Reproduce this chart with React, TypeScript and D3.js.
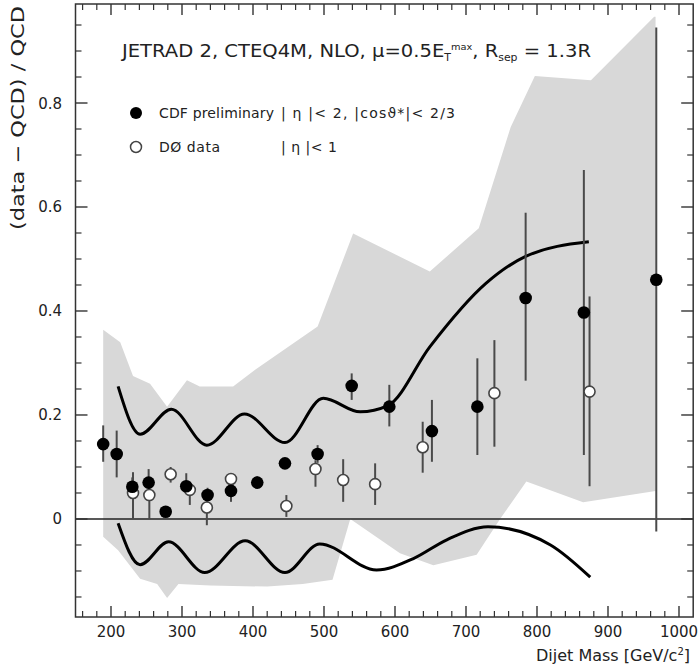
import React from 'react';
import * as d3 from 'd3';

const W = 699;
const H = 668;

// CDF preliminary (filled)
const cdfMass = [189, 208, 230, 253, 277, 306, 336, 369, 406, 445, 491, 539, 592, 652, 716, 784, 866, 968];
const cdfValue = [0.144, 0.125, 0.062, 0.070, 0.014, 0.063, 0.046, 0.054, 0.070, 0.107, 0.125, 0.256, 0.216, 0.169, 0.216, 0.425, 0.397, 0.46];
const cdfLow = [0.11, 0.08, 0.045, 0.045, 0.004, 0.053, 0.033, 0.033, 0.06, 0.098, 0.108, 0.229, 0.178, 0.110, 0.123, 0.266, 0.123, -0.024];
const cdfHigh = [0.18, 0.17, 0.08, 0.096, 0.024, 0.088, 0.06, 0.07, 0.082, 0.117, 0.142, 0.28, 0.258, 0.229, 0.309, 0.589, 0.671, 0.945];

// D0 data (open)
const d0Mass = [231, 254, 284, 311, 335, 369, 447, 488, 527, 572, 639, 740, 874];
const d0Value = [0.050, 0.046, 0.086, 0.056, 0.022, 0.077, 0.025, 0.096, 0.075, 0.067, 0.138, 0.242, 0.245];
const d0Low = [0.0, 0.0, 0.07, 0.027, -0.012, 0.06, 0.004, 0.062, 0.033, 0.027, 0.089, 0.139, 0.063];
const d0High = [0.09, 0.07, 0.10, 0.07, 0.04, 0.085, 0.046, 0.113, 0.115, 0.107, 0.187, 0.344, 0.428];

// theory curves
const upperMass = [210, 241, 285, 335, 388, 445, 499, 551, 590, 649, 728, 784, 873];
const upperValue = [0.255, 0.163, 0.211, 0.142, 0.202, 0.147, 0.232, 0.206, 0.218, 0.331, 0.453, 0.505, 0.533];
const lowerMass = [210, 241, 281, 332, 389, 445, 494, 574, 626, 673, 731, 819, 875];
const lowerValue = [-0.008, -0.088, -0.044, -0.103, -0.042, -0.103, -0.048, -0.098, -0.076, -0.04, -0.015, -0.05, -0.112];

// shaded band
const bandTopMass = [189, 213, 231, 255, 279, 307, 325, 372, 403, 491, 541, 649, 718, 763, 797, 876, 965, 967];
const bandTopValue = [0.364, 0.34, 0.275, 0.26, 0.216, 0.267, 0.255, 0.255, 0.287, 0.37, 0.549, 0.476, 0.559, 0.754, 0.852, 0.844, 0.966, 0.966];
const bandBottomMass = [967, 865, 785, 748, 715, 654, 607, 537, 512, 470, 420, 340, 295, 279, 265, 241, 210, 189];
const bandBottomValue = [0.054, 0.032, 0.072, 0.0, -0.069, -0.089, -0.066, 0.0, -0.117, -0.125, -0.13, -0.128, -0.125, -0.152, -0.125, -0.115, -0.06, -0.034];

const xMajorTicks = [200, 300, 400, 500, 600, 700, 800, 900, 1000];
const yMajorTicks = [0, 0.2, 0.4, 0.6, 0.8];
const yTickLabels = ['0', '0.2', '0.4', '0.6', '0.8'];

const FONT = 'DejaVu Sans';

export default function App() {
  const x = d3.scaleLinear().domain([150, 1020]).range([75.5, 693.2]);
  const y = d3.scaleLinear().domain([-0.1885, 0.9904]).range([617, 4]);
  const [x0, x1] = x.range();
  const [yb, yt] = y.range();

  const xMinor = d3.range(160, 1020, 20).filter((m) => m % 100 !== 0);
  const yMinor = d3.range(-15, 99, 5).filter((v) => v % 20 !== 0).map((v) => v / 100);

  const bandPts: [number, number][] = [
    ...bandTopMass.map((m, i) => [m, bandTopValue[i]] as [number, number]),
    ...bandBottomMass.map((m, i) => [m, bandBottomValue[i]] as [number, number]),
  ];
  const bandPath = d3.line<[number, number]>().x((d) => x(d[0])).y((d) => y(d[1]))(bandPts) + 'Z';

  const curve = d3.line<[number, number]>().x((d) => x(d[0])).y((d) => y(d[1])).curve(d3.curveMonotoneX);
  const upperPath = curve(upperMass.map((m, i) => [m, upperValue[i]]));
  const lowerPath = curve(lowerMass.map((m, i) => [m, lowerValue[i]]));

  const axisColor = '#333';
  const barColor = '#4a4a4a';

  return (
    <svg width={W} height={H} style={{ position: 'absolute', left: 0, top: 0, background: '#fff' }} fontFamily={FONT}>
      <path d={bandPath} fill="#d8d8d8" stroke="none" />
      <line x1={x0} x2={x1} y1={y(0)} y2={y(0)} stroke="#222" strokeWidth={1.3} />
      <path d={upperPath || ''} fill="none" stroke="#000" strokeWidth={3} />
      <path d={lowerPath || ''} fill="none" stroke="#000" strokeWidth={3} />

      {d0Mass.map((m, i) => (
        <line key={'d0e' + i} x1={x(m)} x2={x(m)} y1={y(d0Low[i])} y2={y(d0High[i])} stroke={barColor} strokeWidth={2} />
      ))}
      {cdfMass.map((m, i) => (
        <line key={'cdfe' + i} x1={x(m)} x2={x(m)} y1={y(cdfLow[i])} y2={y(cdfHigh[i])} stroke={barColor} strokeWidth={2} />
      ))}
      {d0Mass.map((m, i) => (
        <circle key={'d0' + i} cx={x(m)} cy={y(d0Value[i])} r={5.5} fill="#fff" stroke="#444" strokeWidth={1.6} />
      ))}
      {cdfMass.map((m, i) => (
        <circle key={'cdf' + i} cx={x(m)} cy={y(cdfValue[i])} r={6.3} fill="#000" />
      ))}

      {/* frame */}
      <rect x={x0} y={yt} width={x1 - x0} height={yb - yt} fill="none" stroke={axisColor} strokeWidth={1.5} />
      {xMajorTicks.map((m) => (
        <g key={'xm' + m}>
          <line x1={x(m)} x2={x(m)} y1={yb} y2={yb - 11} stroke={axisColor} strokeWidth={1.4} />
          <line x1={x(m)} x2={x(m)} y1={yt} y2={yt + 11} stroke={axisColor} strokeWidth={1.4} />
          <text x={x(m)} y={637} textAnchor="middle" fontSize={15} fill="#222">{m}</text>
        </g>
      ))}
      {xMinor.map((m) => (
        <g key={'xn' + m}>
          <line x1={x(m)} x2={x(m)} y1={yb} y2={yb - 6} stroke={axisColor} strokeWidth={1.2} />
          <line x1={x(m)} x2={x(m)} y1={yt} y2={yt + 6} stroke={axisColor} strokeWidth={1.2} />
        </g>
      ))}
      {yMajorTicks.map((v, i) => (
        <g key={'ym' + v}>
          <line x1={x0} x2={x0 + 12} y1={y(v)} y2={y(v)} stroke={axisColor} strokeWidth={1.4} />
          <line x1={x1} x2={x1 - 12} y1={y(v)} y2={y(v)} stroke={axisColor} strokeWidth={1.4} />
          <text x={62} y={y(v) + 5.5} textAnchor="end" fontSize={15} fill="#222">{yTickLabels[i]}</text>
        </g>
      ))}
      {yMinor.map((v) => (
        <g key={'yn' + v}>
          <line x1={x0} x2={x0 + 6} y1={y(v)} y2={y(v)} stroke={axisColor} strokeWidth={1.2} />
          <line x1={x1} x2={x1 - 6} y1={y(v)} y2={y(v)} stroke={axisColor} strokeWidth={1.2} />
        </g>
      ))}

      {/* axis titles */}
      <text x={690} y={661} textAnchor="end" fontSize={16} fill="#222">
        Dijet Mass [GeV/c<tspan dy={-6} fontSize={10}>2</tspan><tspan dy={6}>]</tspan>
      </text>
      <text transform="translate(24,118) rotate(-90)" textAnchor="middle" fontSize={18.5} fill="#222" textLength={224} lengthAdjust="spacingAndGlyphs">
        (data − QCD) / QCD
      </text>

      {/* title */}
      <text x={122} y={57} fontSize={18} fill="#222" textLength={469} lengthAdjust="spacingAndGlyphs">
        JETRAD 2, CTEQ4M, NLO, μ=0.5E<tspan dy={4} fontSize={10}>T</tspan><tspan dy={-11} fontSize={9}>max</tspan><tspan dy={7}>, R</tspan><tspan dy={4} fontSize={10}>sep</tspan><tspan dy={-4}> = 1.3R</tspan>
      </text>

      {/* legend */}
      <circle cx={136} cy={113} r={6} fill="#000" />
      <text x={159} y={118} fontSize={14} fill="#222" textLength={115}>CDF preliminary</text>
      <text x={281} y={118} fontSize={14} fill="#222" textLength={174}>| η |&lt; 2, |cosϑ*|&lt; 2/3</text>
      <circle cx={136} cy={147} r={5.5} fill="#fff" stroke="#444" strokeWidth={1.5} />
      <text x={159} y={152} fontSize={14} fill="#222" textLength={61}>DØ data</text>
      <text x={281} y={152} fontSize={14} fill="#222" textLength={56}>| η |&lt; 1</text>
    </svg>
  );
}
